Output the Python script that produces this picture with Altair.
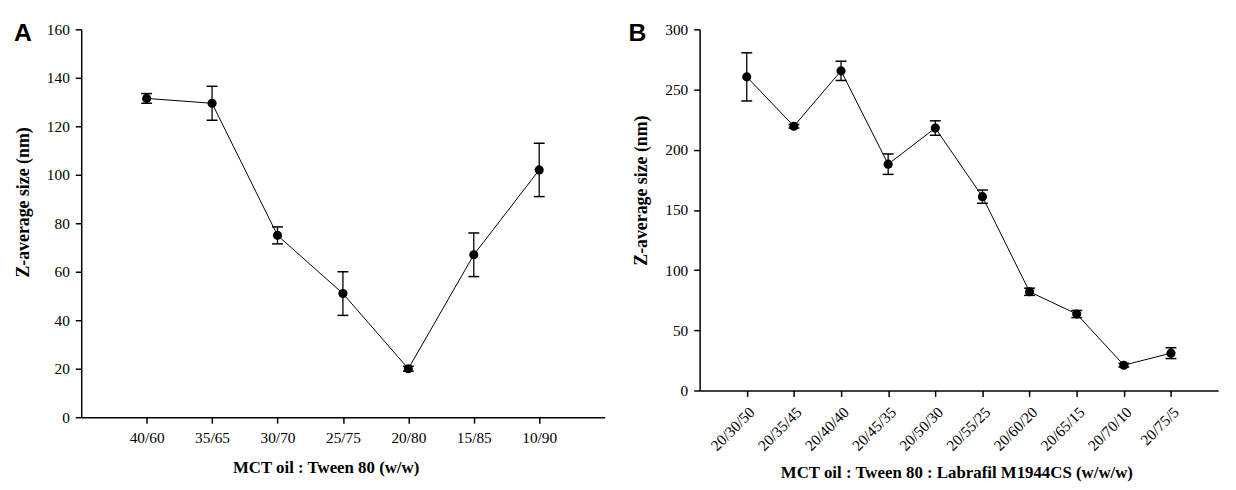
import altair as alt
import pandas as pd

# ---- data ----
a_cats = ["40/60", "35/65", "30/70", "25/75", "20/80", "15/85", "10/90"]
a_vals = [131.5, 129.5, 75.0, 51.0, 20.0, 67.0, 102.0]
a_errs = [2.0, 7.0, 3.5, 9.0, 1.0, 9.0, 11.0]

b_cats = ["20/30/50", "20/35/45", "20/40/40", "20/45/35", "20/50/30",
          "20/55/25", "20/60/20", "20/65/15", "20/70/10", "20/75/5"]
b_vals = [260.5, 219.5, 265.5, 188.0, 218.0, 161.0, 82.0, 63.5, 21.0, 31.0]
b_errs = [20.0, 1.5, 8.0, 8.5, 6.0, 5.5, 3.0, 3.0, 1.5, 4.5]

a_yticks = [0, 20, 40, 60, 80, 100, 120, 140, 160]
b_yticks = [0, 50, 100, 150, 200, 250, 300]

SERIF = "Liberation Serif"
SANS = "Liberation Sans"


def panel(cats, vals, errs, yticks, xtitle, ytitle, letter, width, height,
          label_angle, xtitle_x, xtitle_y, ytitle_y, letter_x):
    df = pd.DataFrame({
        "cat": cats,
        "val": vals,
        "lo": [v - e for v, e in zip(vals, errs)],
        "hi": [v + e for v, e in zip(vals, errs)],
    })
    xaxis = alt.Axis(
        title=xtitle, labelAngle=label_angle, labelFont=SERIF, labelFontSize=15.5,
        labelColor="black", titleFont=SERIF, titleFontSize=17,
        titleFontWeight="bold", titleColor="black", tickSize=6, tickWidth=1.5,
        domainWidth=1.5, domainColor="black", tickColor="black",
        labelPadding=8, titleX=xtitle_x, titleY=xtitle_y, grid=False,
        titleBaseline="middle", titleAlign="center",
        **({"labelAlign": "right", "labelBaseline": "top"} if label_angle else {}),
    )
    yaxis = alt.Axis(
        title=ytitle, values=yticks, labelFont=SERIF, labelFontSize=15.5,
        labelColor="black", titleFont=SERIF, titleFontSize=18,
        titleFontWeight="bold", titleColor="black", tickSize=6, tickWidth=1.5,
        domainWidth=1.5, domainColor="black", tickColor="black",
        labelPadding=6, titlePadding=14, titleY=ytitle_y, grid=False,
    )
    x = alt.X("cat:N", sort=None, scale=alt.Scale(type="point", padding=1),
              axis=xaxis)
    yscale = alt.Scale(domain=[yticks[0], yticks[-1]], nice=False)

    def Y(field):
        return alt.Y(f"{field}:Q", scale=yscale, axis=yaxis, title=ytitle)

    one = pd.DataFrame({"t": [letter]})
    # white rules hiding the frame's top and right edges
    hide_top = alt.Chart(one).mark_rule(color="white", strokeWidth=3).encode(
        x=alt.value(1.5), x2=alt.value(width + 3), y=alt.value(0))
    hide_right = alt.Chart(one).mark_rule(color="white", strokeWidth=3).encode(
        x=alt.value(width + 0.8), y=alt.value(-2), y2=alt.value(height - 1))

    base = alt.Chart(df)
    line = base.mark_line(color="black", strokeWidth=1).encode(x=x, y=Y("val"))
    bars = base.mark_rule(color="black", strokeWidth=1.3).encode(
        x=x, y=Y("lo"), y2="hi:Q")
    cap_hi = base.mark_tick(orient="horizontal", size=11, thickness=1.5,
                            color="black", opacity=1).encode(x=x, y=Y("hi"))
    cap_lo = base.mark_tick(orient="horizontal", size=11, thickness=1.5,
                            color="black", opacity=1).encode(x=x, y=Y("lo"))
    pts = base.mark_circle(size=85, color="black", opacity=1).encode(
        x=x, y=Y("val"))
    lab = alt.Chart(one).mark_text(
        font=SANS, fontSize=25, fontWeight="bold", color="black",
        align="left", baseline="alphabetic"
    ).encode(text="t:N", x=alt.value(letter_x), y=alt.value(11.5))
    return alt.layer(hide_top, hide_right, line, bars, cap_hi, cap_lo, pts,
                     lab).properties(width=width, height=height)


pa = panel(a_cats, a_vals, a_errs, a_yticks, "MCT oil : Tween 80 (w/w)",
           "Z-average size (nm)", "A", 529, 392, 0, 247, 50.5, 174.5, -68)
pb = panel(b_cats, b_vals, b_errs, b_yticks,
           "MCT oil : Tween 80 : Labrafil M1944CS (w/w/w)",
           "Z-average size (nm)", "B", 524, 365, -45, 259.5, 82.5, 162.5, -72)

chart = alt.hconcat(pa, pb, spacing=19).properties(
    padding={"left": 6, "top": 10, "right": 5, "bottom": 5},
).configure_view(strokeWidth=0).configure_axis(grid=False)

chart.save("out.html", embed_options={"renderer": "svg", "actions": False})
